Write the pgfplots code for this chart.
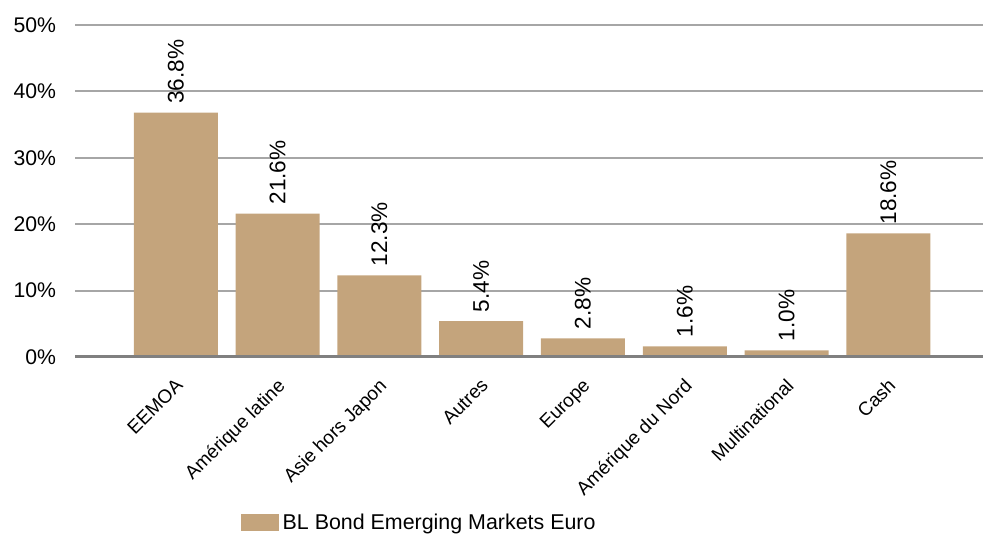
\documentclass[border=0pt]{standalone}
\usepackage{pgfplots}
\pgfplotsset{compat=1.18}
\usepackage{fontspec}
\setmainfont{Liberation Sans}
\definecolor{barbrown}{RGB}{196,164,124}
\definecolor{gridgray}{RGB}{166,166,166}
\definecolor{axisgray}{RGB}{128,128,128}
\begin{document}
\begin{tikzpicture}[x=1pt,y=1pt]
\begin{axis}[
    at={(37.5pt,88.5pt)}, anchor=south west,
    scale only axis,
    width=454pt, height=166pt,
    ybar, bar width=42pt,
    xmin=-0.99, xmax=7.93,
    ymin=0, ymax=50,
    ytick={0,10,...,50},
    yticklabel={\pgfmathprintnumber{\tick}\%},
    /pgf/number format/assume math mode=true,
    ymajorgrids,
    major grid style={gridgray, line width=1pt},
    axis line style={draw=none},
    xtick=data,
    xticklabels={EEMOA, Amérique latine, Asie hors Japon, Autres, Europe, Amérique du Nord, Multinational, Cash},
    major tick length=0pt,
    tick label style={font=\fontsize{10.6}{12}\selectfont, black},
    x tick label style={rotate=45, anchor=north east, inner sep=1pt, xshift=-6.5pt, yshift=-5.5pt, font=\fontsize{9.5}{11}\selectfont},
    y tick label style={xshift=-6pt},
    nodes near coords={\pgfmathprintnumber[fixed,fixed zerofill,precision=1]{\pgfplotspointmeta}\%},
    every node near coord/.append style={rotate=90, anchor=west, font=\fontsize{11.3}{13}\selectfont, black, xshift=1pt},
    legend style={at={(0.182,-0.5)}, anchor=west, draw=none, font=\fontsize{10.7}{12}\selectfont, inner sep=0pt},
    legend image code/.code={\fill[barbrown] (0pt,-4.25pt) rectangle (19pt,4.25pt);},
    clip=false,
]
\addplot[fill=barbrown, draw=none] coordinates {
    (0,36.8) (1,21.6) (2,12.3) (3,5.4) (4,2.8) (5,1.6) (6,1.0) (7,18.6)
};
\addlegendentry{BL Bond Emerging Markets Euro}
\draw[axisgray, line width=1.5pt] (rel axis cs:0,0) -- (rel axis cs:1,0);
\end{axis}
\pgfresetboundingbox
\path (0,0) rectangle (491.5pt,267pt);
\end{tikzpicture}
\end{document}
